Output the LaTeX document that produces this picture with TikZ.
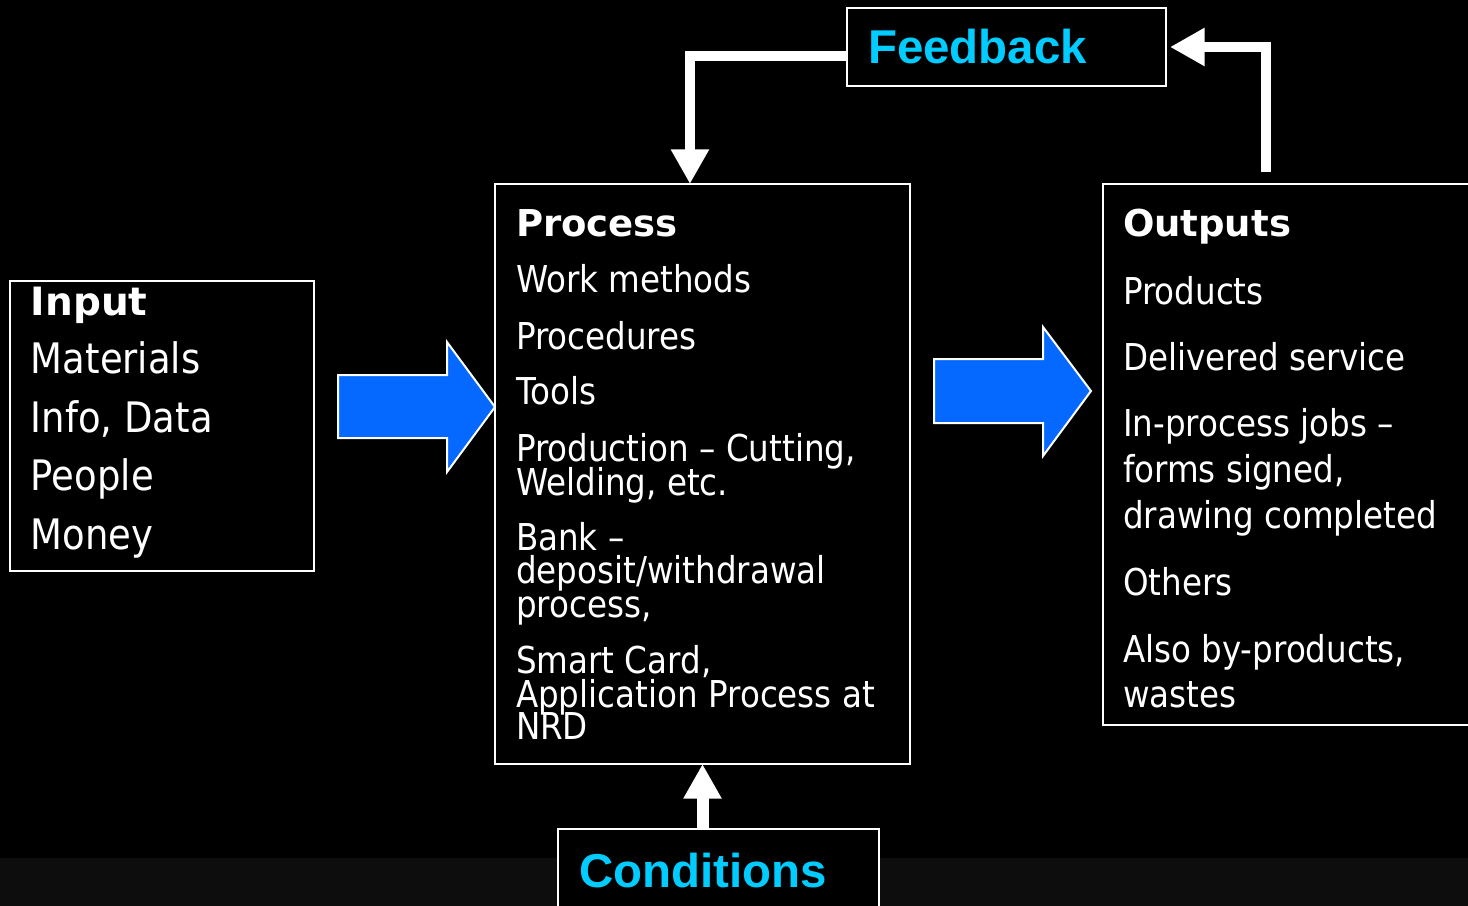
\documentclass[tikz,border=0pt]{standalone}
\usepackage{fontspec}
\usetikzlibrary{arrows.meta}
\newfontfamily\tah{DejaVu Sans}[FakeStretch=0.88]
\newfontfamily\tahb{DejaVu Sans}
\newfontfamily\arl{Liberation Sans}
\definecolor{cyanT}{RGB}{0,204,255}
\definecolor{blueA}{RGB}{5,105,255}
\definecolor{bandc}{RGB}{13,13,13}
\tikzset{
  box/.style={draw=white, line width=1.5pt, fill=black, inner sep=0pt, outer sep=0pt},
  txt/.style={anchor=base west, inner sep=0pt, outer sep=0pt, text=white,
    font=\tah\fontsize{27.75pt}{30pt}\selectfont},
  bigtxt/.style={txt, font=\tah\fontsize{31.5pt}{34pt}\selectfont},
  head/.style={txt, font=\tahb\bfseries\fontsize{27.75pt}{30pt}\selectfont},
  titletxt/.style={anchor=base west, inner sep=0pt, outer sep=0pt, text=cyanT,
    font=\arl\bfseries\fontsize{35.6pt}{38pt}\selectfont},
  blockarrow/.style={fill=blueA, draw=white, line width=1.5pt, line join=miter},
  wline/.style={draw=white, line width=7.5pt, line join=miter,
    -{Triangle[width=27pt,length=26pt]}},
}
\begin{document}
\begin{tikzpicture}[x=0.75pt,y=-0.75pt]
\fill[black] (0,0) rectangle (1468,906);
\fill[bandc] (0,858) rectangle (1468,906);
\useasboundingbox (0,0) rectangle (1468,906);

% boxes
\node[box, minimum width=228pt, minimum height=217.5pt] (in) at (162,426) {};
\node[box, minimum width=311.25pt, minimum height=435pt] (proc) at (702.5,474) {};
\node[box, minimum width=276pt, minimum height=405.75pt] (out) at (1287,454.5) {};
\node[box, minimum width=239.25pt, minimum height=58.5pt] (fb) at (1006.5,47) {};
\node[box, minimum width=240.75pt, minimum height=60.75pt] (cond) at (718.5,869.5) {};

% titles
\node[titletxt] (fbt) at (868,64) {Feedback};
\node[titletxt] (condt) at (579,887) {Conditions};

% input texts
\node[head, font=\tahb\bfseries\fontsize{29.25pt}{32pt}\selectfont] (in0) at (31,315) {Input};
\node[bigtxt] (in1) at (31,373) {Materials};
\node[bigtxt] (in2) at (31,432) {Info, Data};
\node[bigtxt] (in3) at (31,490) {People};
\node[bigtxt] (in4) at (31,549) {Money};

% process texts
\node[head] (p0) at (516,236) {Process};
\node[txt] (p1) at (516,292) {Work methods};
\node[txt] (p2) at (516,349) {Procedures};
\node[txt] (p3) at (516,404) {Tools};
\node[txt] (p4) at (516,461) {Production – Cutting,};
\node[txt] (p5) at (516,495) {Welding, etc.};
\node[txt] (p6) at (516,550) {Bank –};
\node[txt] (p7) at (516,583) {deposit/withdrawal};
\node[txt] (p8) at (516,617) {process,};
\node[txt] (p9) at (516,673) {Smart Card,};
\node[txt] (p10) at (516,707) {Application Process at};
\node[txt] (p11) at (516,739) {NRD};

% output texts
\node[head] (o0) at (1123,236) {Outputs};
\node[txt] (o1) at (1123,304) {Products};
\node[txt] (o2) at (1123,370) {Delivered service};
\node[txt] (o3) at (1123,436) {In-process jobs –};
\node[txt] (o4) at (1123,482) {forms signed,};
\node[txt] (o5) at (1123,528) {drawing completed};
\node[txt] (o6) at (1123,595) {Others};
\node[txt] (o7) at (1123,662) {Also by-products,};
\node[txt] (o8) at (1123,707) {wastes};

% blue block arrows
\draw[blockarrow] (338,375) -- (447,375) -- (447,342) -- (proc.west |- 0,407) -- (447,472) -- (447,438) -- (338,438) -- cycle;
\draw[blockarrow] (934,359) -- (1043,359) -- (1043,327) -- (1091,391) -- (1043,456) -- (1043,423) -- (934,423) -- cycle;

% feedback arrows
\draw[wline] ([yshift=-6.75pt]fb.west) -| ([xshift=-9.4pt]proc.north);
\coordinate (ostart) at (1266,172);
\draw[wline] (ostart) |- ([xshift=3pt]fb.east);

% conditions arrow
\draw[wline, line width=9pt] (proc.south |- cond.north) -- (proc.south);
\end{tikzpicture}
\end{document}
